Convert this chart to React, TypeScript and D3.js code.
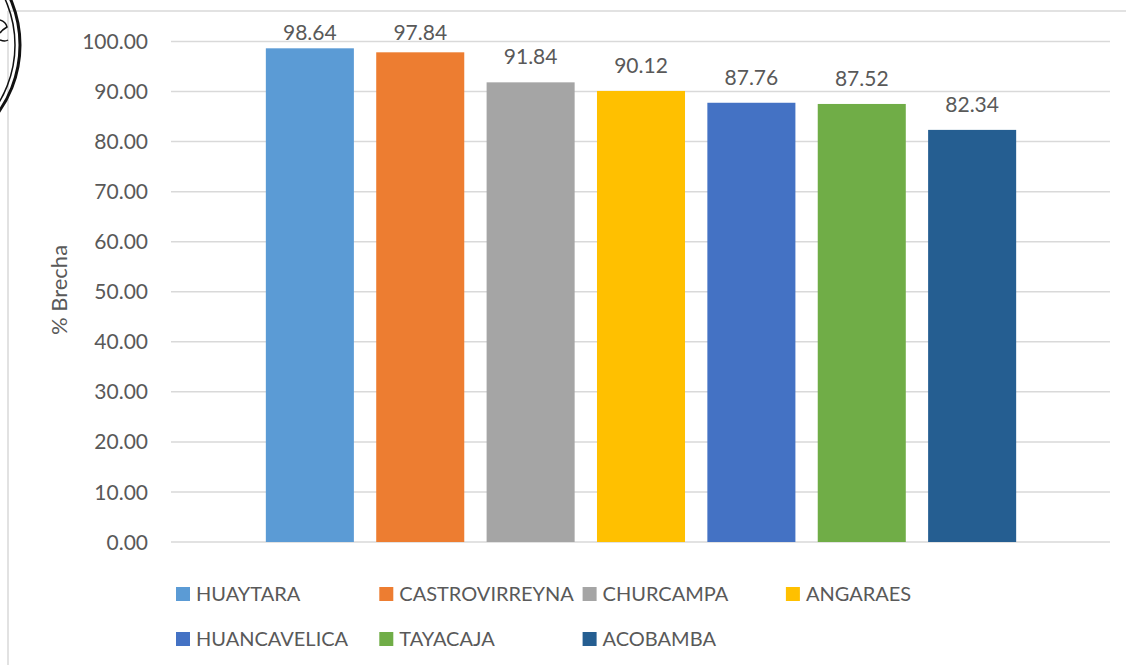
import React from "react";
import * as d3 from "d3";

const provinces = ["HUAYTARA", "CASTROVIRREYNA", "CHURCAMPA", "ANGARAES", "HUANCAVELICA", "TAYACAJA", "ACOBAMBA"];
const brecha = [98.64, 97.84, 91.84, 90.12, 87.76, 87.52, 82.34];
const colors = ["#5B9BD5", "#ED7D31", "#A5A5A5", "#FFC000", "#4472C4", "#70AD47", "#255E91"];
const yTicks = [0, 10, 20, 30, 40, 50, 60, 70, 80, 90, 100];
const yAxisTitle = "% Brecha";

const W = 1126;
const H = 665;
const FONT = "Lato, 'Open Sans', sans-serif";
const TEXT = "#595959";
const GRID = "#D9D9D9";

export default function App() {
  const y = d3.scaleLinear().domain([0, 100]).range([542, 41.5]);
  const x = d3.scaleBand<string>().domain(provinces).range([254.8, 1027.2]).paddingInner(0.2024).paddingOuter(0.1);
  const gridX0 = 171;
  const gridX1 = 1110;

  const legendCol = d3.scaleLinear().domain([0, 1]).range([176, 379.3]);
  const legendRow = d3.scaleLinear().domain([0, 1]).range([587, 632]);

  return (
    <svg width={W} height={H} style={{ position: "absolute", left: 0, top: 0, background: "#fff" }} fontFamily={FONT}>
      <rect x={0} y={0} width={W} height={H} fill="#fff" />
      {/* chart border */}
      <line x1={8} y1={11} x2={W} y2={11} stroke={GRID} strokeWidth={1.5} />
      <line x1={8} y1={11} x2={8} y2={H} stroke={GRID} strokeWidth={1.5} />

      {/* stamp fragment */}
      <circle cx={-96} cy={45} r={116} fill="none" stroke="#111" strokeWidth={3} />
      <circle cx={-96} cy={45} r={111} fill="none" stroke="#111" strokeWidth={1.5} />
      <path d="M0,20 Q6,22 7,27 Q2,30 0,33 M0,40 Q5,42 8,40" fill="none" stroke="#111" strokeWidth={1.5} />

      {/* gridlines */}
      {yTicks.map((t) => (
        <line key={"g" + t} x1={gridX0} x2={gridX1} y1={y(t)} y2={y(t)} stroke={GRID} strokeWidth={1.5} />
      ))}
      {/* y tick labels */}
      {yTicks.map((t) => (
        <text key={"t" + t} x={148} y={y(t)} dy="0.36em" textAnchor="end" fontSize={21} fill={TEXT}>
          {t.toFixed(2)}
        </text>
      ))}
      {/* y title */}
      <text transform={`translate(67,290) rotate(-90)`} textAnchor="middle" fontSize={22} fill={TEXT}>
        {yAxisTitle}
      </text>

      {/* bars */}
      {provinces.map((p, i) => (
        <rect key={p} x={x(p)} y={y(brecha[i])} width={x.bandwidth()} height={y(0) - y(brecha[i])} fill={colors[i]} />
      ))}
      {/* data labels */}
      {provinces.map((p, i) => (
        <text key={"l" + p} x={(x(p) as number) + x.bandwidth() / 2} y={Math.max(40, y(brecha[i]) - 18)} textAnchor="middle" fontSize={21} fill={TEXT}>
          {brecha[i].toFixed(2)}
        </text>
      ))}

      {/* legend */}
      {provinces.map((p, i) => {
        const col = i % 4;
        const row = Math.floor(i / 4);
        const lx = legendCol(col);
        const ly = legendRow(row);
        return (
          <g key={"lg" + p}>
            <rect x={lx} y={ly} width={14} height={14} fill={colors[i]} />
            <text x={lx + 20} y={ly + 14} fontSize={20} fill={TEXT}>
              {p}
            </text>
          </g>
        );
      })}
    </svg>
  );
}
